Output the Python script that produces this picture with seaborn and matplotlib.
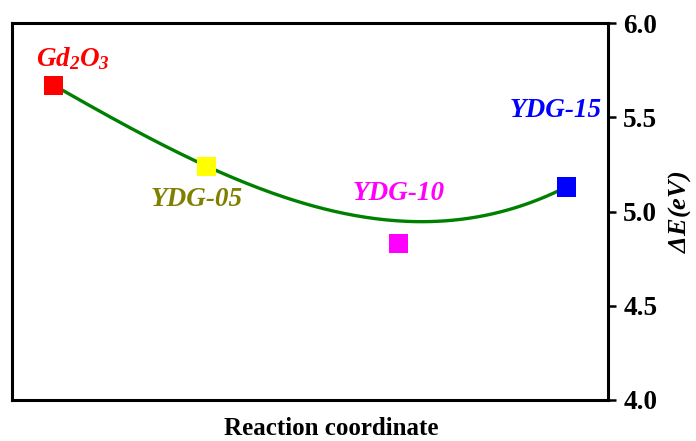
import numpy as np
import pandas as pd
import matplotlib
matplotlib.use("Agg")
import matplotlib.pyplot as plt
import seaborn as sns

sns.set_theme(style="white")
plt.rcParams["font.family"] = ["Liberation Serif", "DejaVu Serif"]
plt.rcParams["mathtext.fontset"] = "custom"
plt.rcParams["mathtext.it"] = "Liberation Serif:italic:bold"
plt.rcParams["mathtext.rm"] = "Liberation Serif:italic:bold"
plt.rcParams["mathtext.bf"] = "Liberation Serif:italic:bold"
plt.rcParams["text.color"] = "black"
plt.rcParams["axes.labelcolor"] = "black"

# Samples along the reaction coordinate and their energy differences
labels = [r"$Gd_2O_3$", "YDG-05", "YDG-10", "YDG-15"]
samples = ["Gd2O3", "YDG-05", "YDG-10", "YDG-15"]
coord = [0.70, 3.27, 6.49, 9.30]
delta_e = [5.67, 5.24, 4.83, 5.13]
# Guide-line levels at the same coordinates
trend_e = [5.67, 5.24, 4.95, 5.13]
colors = ["#ff0000", "#ffff00", "#ff00ff", "#0000ff"]
label_colors = ["#ff0000", "#808000", "#ff00ff", "#0000ff"]

df = pd.DataFrame({"sample": samples, "coord": coord, "dE": delta_e})

# Smooth cubic guide line through the trend levels
coef = np.polyfit(coord, trend_e, 3)
xs = np.linspace(min(coord), max(coord), 200)
trend = pd.DataFrame({"coord": xs, "dE": np.polyval(coef, xs)})

fig = plt.figure(figsize=(6.96, 4.41), dpi=100)
ax = fig.add_axes([0.0172, 0.093, 0.8564, 0.8548])

sns.lineplot(data=trend, x="coord", y="dE", color="#008000", lw=2.4, ax=ax)
sns.scatterplot(data=df, x="coord", y="dE", hue="sample", palette=colors,
                marker="s", s=190, linewidth=0, legend=False, ax=ax, zorder=3)

# Text labels beside each marker (offsets in points)
offsets = [(14, 19), (-7, -24), (0, 36), (-8, 55)]
for lab, x, y, c, (dx, dy) in zip(labels, coord, delta_e, label_colors, offsets):
    ax.annotate(lab, (x, y), xytext=(dx, dy), textcoords="offset points",
                ha="center", va="center", color=c, fontsize=19.5,
                fontweight="bold", fontstyle="italic")

ax.set_xlim(0, 10)
ax.set_ylim(4.0, 6.0)
ax.set_xticks([])
ax.set_yticks([4.0, 4.5, 5.0, 5.5, 6.0])
ax.yaxis.tick_right()
ax.yaxis.set_label_position("right")
ax.tick_params(axis="y", direction="out", length=6, width=1.8, pad=5,
               labelsize=19.5, right=True, left=False, colors="black")
for t in ax.get_yticklabels():
    t.set_fontweight("bold")
ax.set_xlabel("Reaction coordinate", fontsize=18, fontweight="bold", color="black")
ax.xaxis.set_label_coords(0.535, -0.045, transform=ax.transAxes)
ax.xaxis.label.set_va("top")
ax.set_ylabel(r"$\Delta E(eV)$", fontsize=19, labelpad=6, color="black")

for sp in ax.spines.values():
    sp.set_visible(True)
    sp.set_color("black")
    sp.set_linewidth(2.2)

fig.savefig("out.png", dpi=100)
